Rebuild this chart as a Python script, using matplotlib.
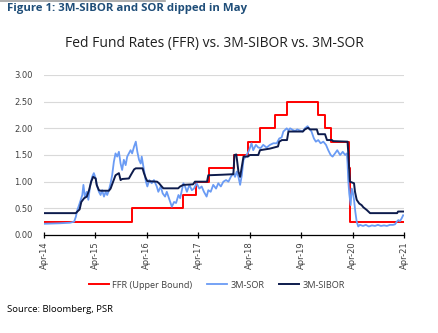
import matplotlib.pyplot as plt
import matplotlib.dates as mdates
import numpy as np

# Fed funds target rate, upper bound (step changes)
ffr_dates = ['2014-04-01', '2015-12-17', '2016-12-15', '2017-03-16', '2017-06-15',
             '2017-12-14', '2018-03-22', '2018-06-14', '2018-09-27', '2018-12-20',
             '2019-08-01', '2019-09-19', '2019-10-31', '2020-03-04', '2020-03-16',
             '2021-04-01']
ffr_vals = [0.25, 0.50, 0.75, 1.00, 1.25, 1.50, 1.75, 2.00, 2.25, 2.50,
            2.25, 2.00, 1.75, 1.25, 0.25, 0.25]

# 3M swap offer rate
sor_dates = ['2014-04-01', '2014-07-23', '2014-10-03', '2014-11-01', '2014-11-13',
             '2014-11-24', '2014-12-06', '2014-12-18', '2014-12-29', '2015-01-06',
             '2015-01-16', '2015-01-30', '2015-02-10', '2015-02-22', '2015-03-09',
             '2015-03-21', '2015-04-03', '2015-04-14', '2015-04-26', '2015-05-08',
             '2015-05-19', '2015-06-01', '2015-06-13', '2015-06-24', '2015-07-06',
             '2015-07-18', '2015-07-29', '2015-08-10', '2015-08-22', '2015-09-03',
             '2015-09-15', '2015-09-27', '2015-10-08', '2015-10-20', '2015-11-02',
             '2015-11-13', '2015-11-25', '2015-12-07', '2015-12-18', '2016-01-01',
             '2016-01-13', '2016-01-24', '2016-02-05', '2016-02-17', '2016-02-24',
             '2016-03-11', '2016-03-25', '2016-04-04', '2016-04-18', '2016-05-05',
             '2016-05-21', '2016-06-10', '2016-06-21', '2016-07-08', '2016-07-22',
             '2016-08-08', '2016-08-20', '2016-09-08', '2016-09-25', '2016-10-11',
             '2016-10-25', '2016-11-11', '2016-11-23', '2016-12-05', '2016-12-16',
             '2016-12-28', '2017-01-10', '2017-01-28', '2017-02-14', '2017-03-01',
             '2017-03-20', '2017-04-08', '2017-04-25', '2017-05-11', '2017-05-30',
             '2017-06-11', '2017-06-28', '2017-07-16', '2017-08-05', '2017-08-21',
             '2017-09-08', '2017-09-26', '2017-10-15', '2017-11-01', '2017-11-18',
             '2017-12-06', '2017-12-18', '2017-12-30', '2018-01-11', '2018-01-23',
             '2018-02-04', '2018-02-16', '2018-03-10', '2018-03-28', '2018-04-14',
             '2018-04-26', '2018-05-15', '2018-06-01', '2018-06-18', '2018-07-06',
             '2018-07-30', '2018-08-23', '2018-09-16', '2018-10-10', '2018-10-28',
             '2018-11-14', '2018-11-26', '2018-12-08', '2018-12-20', '2019-01-01',
             '2019-01-13', '2019-02-01', '2019-02-18', '2019-03-04', '2019-03-23',
             '2019-04-12', '2019-04-28', '2019-05-17', '2019-05-28', '2019-06-14',
             '2019-07-01', '2019-07-15', '2019-08-01', '2019-08-18', '2019-09-06',
             '2019-09-25', '2019-10-11', '2019-10-28', '2019-11-11', '2019-11-28',
             '2019-12-14', '2020-01-03', '2020-01-22', '2020-02-08', '2020-02-20',
             '2020-02-25', '2020-03-01', '2020-03-08', '2020-03-18', '2020-03-25',
             '2020-04-02', '2020-04-11', '2020-04-20', '2020-04-30', '2020-05-11',
             '2020-05-23', '2020-06-14', '2020-07-04', '2020-07-25', '2020-08-16',
             '2020-09-07', '2020-09-28', '2020-10-19', '2020-11-10', '2020-12-01',
             '2020-12-22', '2021-01-13', '2021-01-27', '2021-02-09', '2021-02-20',
             '2021-03-03', '2021-03-15', '2021-03-26']
sor_vals = [0.21, 0.22, 0.23, 0.25, 0.34, 0.47, 0.56, 0.66, 0.75, 0.94,
            0.72, 0.81, 0.66, 0.91, 1.09, 1.16, 1.06, 0.91, 0.81, 0.75,
            0.84, 0.72, 0.81, 0.75, 0.84, 0.97, 1.12, 1.37, 1.53, 1.47,
            1.56, 1.34, 1.22, 1.41, 1.31, 1.47, 1.53, 1.59, 1.53, 1.66,
            1.75, 1.56, 1.41, 1.34, 1.47, 1.22, 1.00, 0.91, 1.03, 0.97,
            1.03, 0.91, 0.81, 0.91, 0.78, 0.72, 0.81, 0.66, 0.53, 0.62,
            0.60, 0.75, 0.69, 0.84, 0.97, 0.91, 0.81, 0.94, 0.84, 0.87,
            0.97, 0.87, 0.91, 0.81, 0.72, 0.84, 0.81, 0.94, 0.87, 0.97,
            0.91, 1.00, 1.03, 1.00, 1.09, 1.16, 1.09, 1.19, 1.09, 0.94,
            1.12, 1.41, 1.50, 1.59, 1.72, 1.59, 1.69, 1.64, 1.63, 1.69,
            1.64, 1.69, 1.72, 1.72, 1.81, 1.83, 1.94, 1.97, 2.00, 1.96,
            2.00, 1.97, 1.95, 1.98, 1.96, 1.94, 2.00, 2.04, 2.00, 1.94,
            1.81, 1.75, 1.78, 1.72, 1.75, 1.69, 1.59, 1.50, 1.47, 1.53,
            1.59, 1.50, 1.56, 1.50, 1.53, 1.34, 1.03, 0.78, 0.56, 0.87,
            0.81, 0.66, 0.44, 0.25, 0.16, 0.19, 0.17, 0.19, 0.16, 0.18,
            0.17, 0.19, 0.17, 0.18, 0.17, 0.19, 0.19, 0.20, 0.25, 0.28,
            0.26, 0.31, 0.37]

# 3M SIBOR
sibor_dates = ['2014-04-01', '2014-11-13', '2014-11-24', '2014-12-10', '2014-12-22',
               '2015-01-11', '2015-01-30', '2015-02-15', '2015-03-02', '2015-03-16',
               '2015-04-03', '2015-04-10', '2015-04-26', '2015-05-08', '2015-07-06',
               '2015-07-18', '2015-08-05', '2015-08-22', '2015-09-15', '2015-09-27',
               '2015-10-08', '2015-11-25', '2015-12-12', '2016-01-01', '2016-01-13',
               '2016-03-01', '2016-03-11', '2016-03-25', '2016-04-04', '2016-06-12',
               '2016-06-26', '2016-07-15', '2016-07-27', '2016-11-09', '2016-11-23',
               '2016-12-16', '2017-02-23', '2017-03-08', '2017-06-02', '2017-06-11',
               '2017-09-17', '2017-12-06', '2017-12-14', '2017-12-27', '2018-01-11',
               '2018-01-23', '2018-02-04', '2018-02-16', '2018-03-19', '2018-04-02',
               '2018-06-01', '2018-06-13', '2018-08-23', '2018-10-19', '2018-10-28',
               '2018-11-16', '2018-12-22', '2019-01-01', '2019-04-14', '2019-04-28',
               '2019-05-21', '2019-06-02', '2019-07-22', '2019-08-01', '2019-09-18',
               '2019-10-02', '2019-11-07', '2019-11-14', '2020-02-25', '2020-03-01',
               '2020-03-13', '2020-04-11', '2020-04-18', '2020-04-30', '2020-05-18',
               '2020-06-04', '2020-06-16', '2020-07-10', '2020-08-03', '2021-02-11',
               '2021-02-18', '2021-04-01']
sibor_vals = [0.41, 0.41, 0.44, 0.48, 0.62, 0.69, 0.72, 0.84, 1.00, 1.09,
              1.06, 0.94, 0.84, 0.83, 0.83, 0.87, 1.00, 1.12, 1.16, 1.03,
              1.05, 1.06, 1.14, 1.23, 1.25, 1.25, 1.16, 1.06, 1.01, 1.00,
              0.97, 0.91, 0.875, 0.875, 0.91, 0.94, 0.95, 1.00, 1.00, 1.12,
              1.13, 1.14, 1.50, 1.51, 1.19, 1.09, 1.28, 1.47, 1.47, 1.50,
              1.50, 1.59, 1.62, 1.66, 1.75, 1.78, 1.78, 1.94, 1.94, 1.98,
              2.01, 1.98, 1.98, 1.89, 1.89, 1.78, 1.78, 1.76, 1.75, 1.55,
              1.00, 0.97, 0.81, 0.66, 0.59, 0.56, 0.52, 0.47, 0.41, 0.41,
              0.44, 0.44]

y_ticks = [0.0, 0.5, 1.0, 1.5, 2.0, 2.5, 3.0]

fig = plt.figure(figsize=(4.39, 3.33), dpi=100)
ax = fig.add_axes([44 / 439, 1 - 235 / 333, 360 / 439, 160 / 333])

ax.plot(np.array(ffr_dates, dtype='datetime64[D]'), ffr_vals, color='#FF0000',
        lw=1.4, drawstyle='steps-post', label='FFR (Upper Bound)', zorder=3)
ax.plot(np.array(sor_dates, dtype='datetime64[D]'), sor_vals, color='#6A9BF4',
        lw=1.3, label='3M-SOR', zorder=4)
ax.plot(np.array(sibor_dates, dtype='datetime64[D]'), sibor_vals, color='#0D1B4C',
        lw=1.4, label='3M-SIBOR', zorder=5)

ax.set_xlim(np.datetime64('2014-04-01'), np.datetime64('2021-04-01'))
ax.set_ylim(0, 3)
ax.set_yticks(y_ticks)
ax.yaxis.set_major_formatter(plt.FuncFormatter(lambda v, p: f'{v:.2f}'))
ax.xaxis.set_major_locator(mdates.MonthLocator(bymonth=4))
ax.xaxis.set_major_formatter(mdates.DateFormatter('%b-%y'))

ax.grid(axis='y', color='#D9D9D9', lw=0.8)
ax.set_axisbelow(True)
for s in ['left', 'right', 'top']:
    ax.spines[s].set_visible(False)
ax.spines['bottom'].set_color('black')
ax.spines['bottom'].set_linewidth(0.9)
ax.spines['bottom'].set_zorder(6)

ax.tick_params(axis='y', length=0, labelsize=6, labelcolor='#404040', pad=8)
ax.tick_params(axis='x', direction='inout', length=5, width=0.9, labelsize=6,
               labelcolor='#404040', labelrotation=90, pad=2)

fig.text(214 / 439, 1 - 44 / 333, 'Fed Fund Rates (FFR) vs. 3M-SIBOR vs. 3M-SOR',
         ha='center', va='center', fontsize=10, family='Open Sans', color='#202020')
fig.text(7 / 439, 1 - 9 / 333, 'Figure 1: 3M-SIBOR and SOR dipped in May',
         ha='left', va='center', fontsize=8.2, fontweight='bold', family='Open Sans',
         color='#1F4E79')
fig.text(7 / 439, 1 - 310 / 333, 'Source: Bloomberg, PSR', ha='left', va='center',
         fontsize=6.8, family='Open Sans', color='black')
fig.add_artist(plt.Line2D([0, 165 / 439], [1 - 0.5 / 333, 1 - 0.5 / 333],
                          color='#A0A0A0', lw=1.2))

leg = fig.legend(loc='center', bbox_to_anchor=(217 / 439, 1 - 285 / 333), ncol=3,
                 frameon=False, handlelength=2.2, columnspacing=1.6,
                 handletextpad=0.35, prop={'family': 'Open Sans', 'size': 6.6})
for t in leg.get_texts():
    t.set_color('#404040')

fig.savefig('out.png', dpi=100)
